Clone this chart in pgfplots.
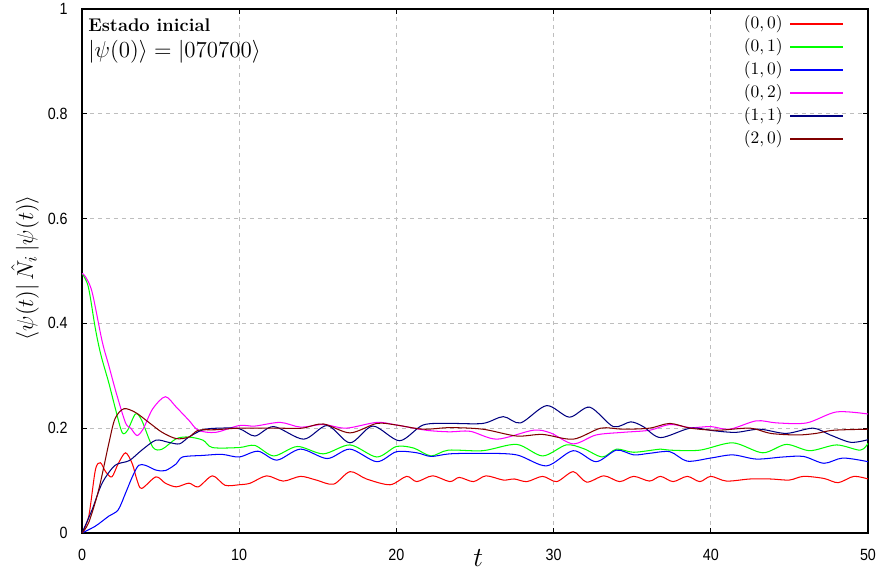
\documentclass[border=0pt]{standalone}
\usepackage{pgfplots}
\pgfplotsset{compat=1.18}
\usepackage{fontspec}
\newfontfamily\tickfont[FakeStretch=0.88]{Liberation Sans}
\definecolor{gpred}{RGB}{255,0,0}
\definecolor{gpgreen}{RGB}{0,255,0}
\definecolor{gpblue}{RGB}{0,0,255}
\definecolor{gpmagenta}{RGB}{255,0,255}
\definecolor{gpnavy}{RGB}{0,0,128}
\definecolor{gpbrown}{RGB}{128,0,0}
\definecolor{gridc}{RGB}{190,190,190}
\tikzset{legnode/.style={anchor=east, inner sep=0pt, font=\fontsize{11}{13}\selectfont}}
\begin{document}
\begin{tikzpicture}
\begin{axis}[
  name=main,
  scale only axis, width=491.25bp, height=327.5bp,
  xmin=0, xmax=50, ymin=0, ymax=1,
  xtick={0,10,20,30,40,50}, ytick={0,0.2,0.4,0.6,0.8,1},
  tick align=inside, major tick length=3bp,
  axis line style={line width=0.9bp},
  tick style={line width=0.6bp, black},
  grid=major, major grid style={gridc, dash pattern=on 2.5bp off 2.5bp, line width=0.5bp},
  /pgf/number format/assume math mode=true,
  ticklabel style={font=\fontsize{10.2}{12}\tickfont, inner sep=0pt},
  yticklabel style={xshift=-8.75bp},
  xticklabel style={yshift=-10bp},
  every axis y label/.style={at={([xshift=-35.6bp,yshift=2bp]axis description cs:0,0.5)}, rotate=90, anchor=center},
  every axis x label/.style={at={([yshift=-15.6bp]axis description cs:0.504,0)}, anchor=center},
  ylabel={\fontsize{15}{17}\selectfont$\langle\psi(t)|\,\hat{N}_i\,|\psi(t)\rangle$},
  xlabel={\fontsize{16}{18}\selectfont$t$},
  every axis plot/.append style={line width=0.65bp, smooth, tension=0.5},
]
\addplot[color=gpred] coordinates {(0,0) (0.43,0.032) (0.85,0.12) (1.17,0.134) (1.5,0.117) (1.9,0.107) (2.3,0.132) (2.77,0.153) (3.2,0.132) (3.5,0.101) (3.8,0.085) (4.7,0.107) (5.3,0.095) (6,0.088) (6.8,0.095) (7.4,0.088) (8.3,0.109) (9.1,0.091) (10,0.092) (10.7,0.095) (11.75,0.109) (12.8,0.099) (13.9,0.108) (14.9,0.101) (16,0.093) (17.05,0.117) (18.1,0.103) (19.6,0.092) (20.65,0.108) (21.3,0.098) (22.3,0.109) (23.4,0.098) (24,0.106) (24.9,0.098) (25.7,0.109) (26.8,0.101) (27.5,0.103) (28.3,0.098) (29.3,0.108) (30.2,0.098) (31.25,0.117) (32.1,0.097) (33.2,0.109) (34.2,0.098) (35.1,0.108) (36.1,0.099) (36.8,0.108) (37.6,0.098) (38.5,0.108) (39.3,0.098) (40,0.108) (41,0.099) (42.5,0.103) (43.8,0.103) (45,0.101) (45.9,0.108) (47.2,0.104) (48.1,0.096) (49.1,0.108) (50,0.103)};
\addplot[color=gpgreen] coordinates {(0,0.495) (0.4,0.47) (0.85,0.39) (1.2,0.34) (1.7,0.287) (2.1,0.24) (2.55,0.192) (2.9,0.196) (3.4,0.227) (3.8,0.215) (4.5,0.164) (5.1,0.16) (6,0.18) (6.8,0.183) (7.7,0.177) (8.3,0.163) (10,0.163) (11,0.167) (12.2,0.147) (13.7,0.165) (15.35,0.151) (17.05,0.168) (18.75,0.145) (20,0.165) (21.1,0.162) (22.2,0.147) (23.3,0.158) (25.5,0.157) (27.65,0.169) (29.3,0.147) (30.8,0.168) (31.9,0.161) (33.1,0.145) (34,0.16) (35.1,0.154) (36.8,0.16) (37.4,0.158) (39.3,0.158) (41.4,0.172) (43.3,0.153) (44.8,0.169) (46.3,0.157) (48,0.168) (49.5,0.158) (50,0.171)};
\addplot[color=gpblue] coordinates {(0,0) (0.85,0.013) (1.7,0.032) (2.3,0.044) (2.77,0.076) (3.2,0.107) (3.6,0.129) (4.04,0.129) (4.7,0.12) (5.3,0.119) (6,0.132) (6.4,0.145) (7.7,0.148) (8.9,0.15) (10,0.145) (11.2,0.156) (12.4,0.139) (13.9,0.16) (15.6,0.142) (17.05,0.16) (18.75,0.136) (20,0.155) (21.3,0.153) (22.2,0.146) (23.4,0.151) (25.5,0.152) (27.65,0.149) (29.55,0.128) (31.25,0.157) (32.7,0.136) (34,0.158) (35.1,0.149) (36.1,0.152) (37.4,0.155) (38.5,0.137) (40,0.143) (41.4,0.149) (42.9,0.141) (44.6,0.145) (45.9,0.146) (47.2,0.133) (48.4,0.143) (50,0.136)};
\addplot[color=gpmagenta] coordinates {(0,0.495) (0.2,0.49) (0.64,0.46) (1.28,0.366) (1.7,0.32) (2.2,0.265) (2.77,0.21) (3.1,0.2) (3.5,0.186) (3.9,0.199) (4.5,0.237) (5.3,0.26) (6,0.24) (6.8,0.215) (7.4,0.196) (8.5,0.192) (10,0.205) (11,0.204) (12.6,0.211) (13.9,0.202) (15.35,0.207) (16.8,0.2) (18.75,0.211) (20,0.206) (21.9,0.196) (23.4,0.193) (24.7,0.194) (26.4,0.179) (28.7,0.196) (29.8,0.191) (31.25,0.17) (32.7,0.187) (34.4,0.192) (36.1,0.196) (37.4,0.207) (38.7,0.201) (40,0.203) (41.2,0.198) (42.9,0.214) (44.2,0.21) (46.1,0.21) (48,0.231) (50,0.227)};
\addplot[color=gpnavy] coordinates {(0,0) (0.64,0.044) (1.28,0.095) (2.1,0.129) (3,0.138) (3.8,0.158) (4.7,0.177) (5.5,0.173) (6.2,0.17) (6.8,0.183) (7.7,0.197) (8.7,0.2) (10,0.199) (11,0.185) (12.2,0.203) (14.1,0.179) (15.6,0.205) (17.05,0.172) (18.5,0.204) (20.2,0.176) (21.7,0.206) (23.4,0.209) (25.5,0.209) (26.8,0.222) (27.9,0.21) (29.55,0.243) (31,0.221) (32.3,0.24) (33.8,0.203) (34.9,0.212) (35.7,0.203) (36.8,0.182) (38.7,0.2) (40.2,0.195) (41.6,0.192) (43.1,0.198) (44.8,0.19) (46.5,0.2) (47.6,0.187) (48.9,0.173) (50,0.178)};
\addplot[color=gpbrown] coordinates {(0,0) (0.43,0.02) (1.06,0.082) (1.7,0.17) (2.1,0.218) (2.66,0.237) (3.4,0.23) (4.25,0.211) (5.1,0.192) (6,0.18) (6.8,0.183) (7.4,0.196) (8.5,0.197) (10,0.2) (12.4,0.2) (14,0.2) (15.35,0.208) (17.05,0.191) (18.75,0.209) (20,0.206) (21.7,0.198) (23.4,0.201) (25.5,0.198) (27.65,0.185) (29.3,0.188) (31.25,0.179) (33,0.2) (34.4,0.198) (36.1,0.2) (37.4,0.209) (38.7,0.2) (40.4,0.196) (42.5,0.2) (43.8,0.19) (45.5,0.187) (46.7,0.19) (47.8,0.196) (50,0.198)};
% legend key lines, drawn as short series in axis units
\addplot[color=gpred, forget plot, line width=1.25bp] coordinates {(45.04,0.97034) (48.41,0.97034)};
\addplot[color=gpgreen, forget plot, line width=1.25bp] coordinates {(45.04,0.92645) (48.41,0.92645)};
\addplot[color=gpblue, forget plot, line width=1.25bp] coordinates {(45.04,0.88256) (48.41,0.88256)};
\addplot[color=gpmagenta, forget plot, line width=1.25bp] coordinates {(45.04,0.83866) (48.41,0.83866)};
\addplot[color=gpnavy, forget plot, line width=1.25bp] coordinates {(45.04,0.79477) (48.41,0.79477)};
\addplot[color=gpbrown, forget plot, line width=1.25bp] coordinates {(45.04,0.75088) (48.41,0.75088)};
\node[legnode] at (axis cs:44.59,0.97034) {$(0,0)$};
\node[legnode] at (axis cs:44.59,0.92645) {$(0,1)$};
\node[legnode] at (axis cs:44.59,0.88256) {$(1,0)$};
\node[legnode] at (axis cs:44.59,0.83866) {$(0,2)$};
\node[legnode] at (axis cs:44.59,0.79477) {$(1,1)$};
\node[legnode] at (axis cs:44.59,0.75088) {$(2,0)$};
\node[anchor=north west, inner sep=0pt, align=left] at ([xshift=3.75bp,yshift=-6bp]rel axis cs:0,1)
  {{\fontsize{11.5}{13}\selectfont\bfseries Estado inicial}\\[4bp]
   {\fontsize{15}{17}\selectfont$|\psi(0)\rangle = |070700\rangle$}};
\end{axis}
\pgfresetboundingbox
\useasboundingbox ([xshift=-51.25bp,yshift=-25.6bp]main.south west) rectangle ([xshift=6.25bp,yshift=5.6bp]main.north east);
\end{tikzpicture}
\end{document}
